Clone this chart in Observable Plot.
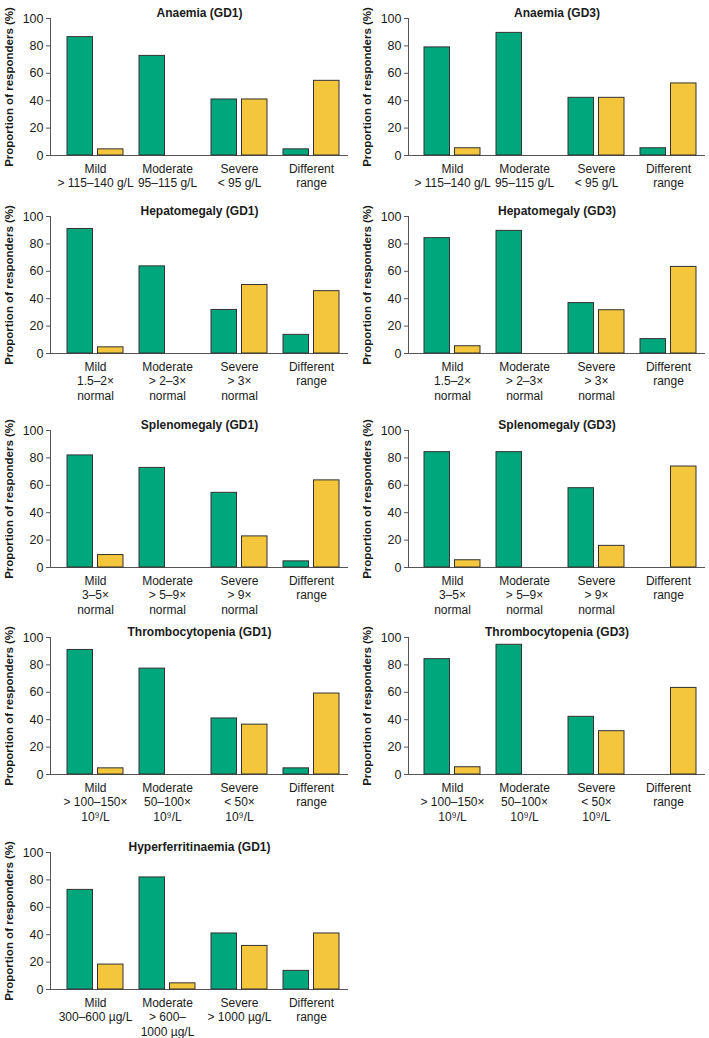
<!DOCTYPE html>
<html><head><meta charset="utf-8">
<script src="https://cdn.jsdelivr.net/npm/d3@7"></script>
<script src="https://cdn.jsdelivr.net/npm/@observablehq/plot@0.6"></script>
<style>
body{margin:0;background:#fff;}
#wrap{position:relative;width:709px;height:1038px;font-family:"Liberation Sans",Arial,sans-serif;}
.panel{position:absolute;}
</style></head><body><div id="wrap"></div>
<script>
const categories = ["Mild", "Moderate", "Severe", "Different"];
const yLabel = "Proportion of responders (%)";
const yTicks = [0, 20, 40, 60, 80, 100];

const anaemiaLabels = ["Mild\n> 115–140 g/L", "Moderate\n95–115 g/L", "Severe\n< 95 g/L", "Different\nrange"];
const hepatoLabels = ["Mild\n1.5–2×\nnormal", "Moderate\n> 2–3×\nnormal", "Severe\n> 3×\nnormal", "Different\nrange"];
const splenoLabels = ["Mild\n3–5×\nnormal", "Moderate\n> 5–9×\nnormal", "Severe\n> 9×\nnormal", "Different\nrange"];
const thromboLabels = ["Mild\n> 100–150×\n10⁹/L", "Moderate\n50–100×\n10⁹/L", "Severe\n< 50×\n10⁹/L", "Different\nrange"];
const ferritinLabels = ["Mild\n300–600 µg/L", "Moderate\n> 600–\n1000 µg/L", "Severe\n> 1000 µg/L", "Different\nrange"];

const anaemiaGD1Green = [86.4, 72.7, 40.9, 4.5];
const anaemiaGD1Yellow = [4.5, 0, 40.9, 54.5];
const anaemiaGD3Green = [78.9, 89.5, 42.1, 5.3];
const anaemiaGD3Yellow = [5.3, 0, 42.1, 52.6];
const hepatoGD1Green = [90.9, 63.6, 31.8, 13.6];
const hepatoGD1Yellow = [4.5, 0, 50.0, 45.5];
const hepatoGD3Green = [84.2, 89.5, 36.8, 10.5];
const hepatoGD3Yellow = [5.3, 0, 31.6, 63.2];
const splenoGD1Green = [81.8, 72.7, 54.5, 4.5];
const splenoGD1Yellow = [9.1, 0, 22.7, 63.6];
const splenoGD3Green = [84.2, 84.2, 57.9, 0];
const splenoGD3Yellow = [5.3, 0, 15.8, 73.7];
const thromboGD1Green = [90.9, 77.3, 40.9, 4.5];
const thromboGD1Yellow = [4.5, 0, 36.4, 59.1];
const thromboGD3Green = [84.2, 94.7, 42.1, 0];
const thromboGD3Yellow = [5.3, 0, 31.6, 63.2];
const ferritinGD1Green = [72.7, 81.8, 40.9, 13.6];
const ferritinGD1Yellow = [18.2, 4.5, 31.8, 40.9];

const GREEN = "#00a67c";
const YELLOW = "#f3c63c";

const panels = [
  {title: "Anaemia (GD1)", labels: anaemiaLabels, green: anaemiaGD1Green, yellow: anaemiaGD1Yellow, col: 0, top: 0, mb: 40},
  {title: "Anaemia (GD3)", labels: anaemiaLabels, green: anaemiaGD3Green, yellow: anaemiaGD3Yellow, col: 1, top: 0, mb: 40},
  {title: "Hepatomegaly (GD1)", labels: hepatoLabels, green: hepatoGD1Green, yellow: hepatoGD1Yellow, col: 0, top: 198, mb: 50},
  {title: "Hepatomegaly (GD3)", labels: hepatoLabels, green: hepatoGD3Green, yellow: hepatoGD3Yellow, col: 1, top: 198, mb: 50},
  {title: "Splenomegaly (GD1)", labels: splenoLabels, green: splenoGD1Green, yellow: splenoGD1Yellow, col: 0, top: 412, mb: 50},
  {title: "Splenomegaly (GD3)", labels: splenoLabels, green: splenoGD3Green, yellow: splenoGD3Yellow, col: 1, top: 412, mb: 50},
  {title: "Thrombocytopenia (GD1)", labels: thromboLabels, green: thromboGD1Green, yellow: thromboGD1Yellow, col: 0, top: 619, mb: 50},
  {title: "Thrombocytopenia (GD3)", labels: thromboLabels, green: thromboGD3Green, yellow: thromboGD3Yellow, col: 1, top: 619, mb: 50},
  {title: "Hyperferritinaemia (GD1)", labels: ferritinLabels, green: ferritinGD1Green, yellow: ferritinGD1Yellow, col: 0, top: 834, mb: 50}
];

const wrap = document.getElementById("wrap");
for (const p of panels) {
  const greenData = categories.map((c, i) => ({category: c, value: p.green[i]})).filter(d => d.value > 0);
  const yellowData = categories.map((c, i) => ({category: c, value: p.yellow[i]})).filter(d => d.value > 0);
  const width = p.col === 0 ? 355 : 351;
  const marginRight = p.col === 0 ? 7 : 4;
  const plotH = 137;
  const chart = Plot.plot({
    width,
    height: 18 + plotH + p.mb,
    marginTop: 18,
    marginLeft: 50,
    marginRight,
    marginBottom: p.mb,
    style: {background: "transparent", fontFamily: "'Liberation Sans', Arial, sans-serif", fontSize: "12px", color: "#1a1a1a", overflow: "visible"},
    x: {domain: categories, paddingInner: 0.22, paddingOuter: 0.17, align: 0.64, label: null},
    y: {domain: [0, 100], label: null},
    marks: [
      Plot.axisY({ticks: yTicks, tickSize: 4, tickPadding: 3, label: null, fontSize: 12.5, stroke: "#555"}),
      Plot.axisX({tickSize: 0, tickPadding: 7, label: null, fontSize: 12, lineHeight: 1.2,
        tickFormat: d => p.labels[categories.indexOf(d)]}),
      Plot.frame({anchor: "left", stroke: "#555"}),
      Plot.ruleY([0], {stroke: "#555"}),
      Plot.barY(greenData, {x: "category", y: "value", fill: GREEN, stroke: "#333", strokeWidth: 1, insetRight: 30.5}),
      Plot.barY(yellowData, {x: "category", y: "value", fill: YELLOW, stroke: "#333", strokeWidth: 1, insetLeft: 30.5}),
      Plot.text([p.title], {frameAnchor: "top", dy: -10, fontWeight: "bold", fontSize: 12, fill: "#1a1a1a"}),
      Plot.text([yLabel], {frameAnchor: "left", textAnchor: "middle", rotate: -90, dx: -41, fontWeight: "bold", fontSize: 11.5, fill: "#1a1a1a"})
    ]
  });
  const div = document.createElement("div");
  div.className = "panel";
  div.style.left = (p.col === 0 ? 0 : 358) + "px";
  div.style.top = p.top + "px";
  div.appendChild(chart);
  wrap.appendChild(div);
}
</script>
</body></html>
